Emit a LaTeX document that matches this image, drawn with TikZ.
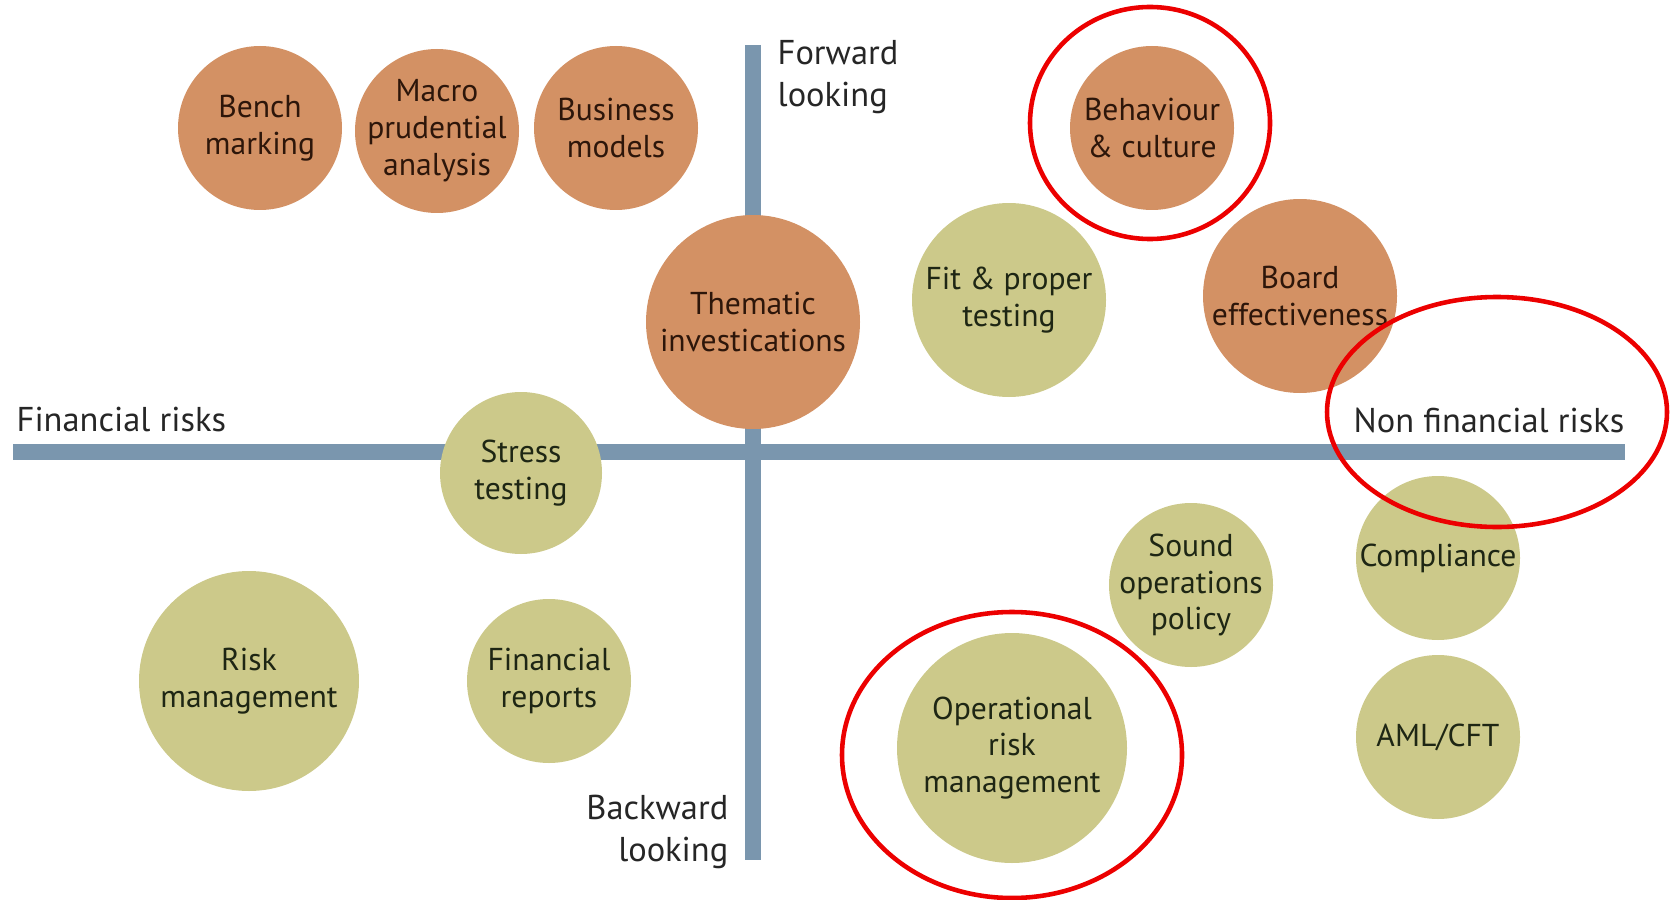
\documentclass[tikz,border=0pt]{standalone}
\usepackage{fontspec}
\setmainfont{PT Sans}
\usetikzlibrary{positioning}

\definecolor{rust}{RGB}{211,145,100}
\definecolor{olive}{RGB}{204,201,138}
\definecolor{axisblue}{RGB}{122,150,174}
\definecolor{ringred}{RGB}{236,0,0}
\definecolor{inkbrown}{RGB}{45,22,10}
\definecolor{inkgreen}{RGB}{30,38,20}

\begin{document}
\begin{tikzpicture}[x=0.1mm, y=-0.1mm,
  bubble/.style={circle, inner sep=-8pt, align=center, font=\fontsize{9}{10.5}\selectfont},
  fwd/.style={bubble, fill=rust, text=inkbrown},
  bwd/.style={bubble, fill=olive, text=inkgreen},
  dia/.style={minimum size=#1mm},
  axislabel/.style={inner sep=0pt, font=\fontsize{9.8}{11.8}\selectfont, text=black!85},
  ring/.style={draw=ringred, line width=1.3pt}]
\useasboundingbox (0,0) rectangle (1673,900);

\coordinate (west) at (13,452);
\coordinate (east) at (1625,452);
\coordinate (top) at (753,45);
\coordinate (bottom) at (753,860);
\draw[axisblue, line width=4.3pt] (west) -- (east);
\draw[axisblue, line width=4.3pt] (top) -- (bottom);

\node[axislabel, anchor=west, align=left] (fl) at (777,77) {Forward\\looking};
\node[axislabel, anchor=east, align=right] (bl) at (729,832) {Backward\\looking};
\node[axislabel, anchor=west] (fr) at (16,420) {Financial risks};
\node[axislabel, anchor=east] (nfr) at (1625,420) {Non financial risks};

\node[fwd, dia=16.4] (bench) at (260,128) {Bench\\marking};
\node[fwd, dia=16.4] (macro) at (437,131) {Macro\\prudential\\analysis};
\node[fwd, dia=16.4] (business) at (616,128) {Business\\models};
\node[fwd, dia=21.4] (thematic) at (753,322) {Thematic\\investications};
\node[bwd, dia=19.4] (fit) at (1009,300) {Fit \& proper\\testing};
\node[fwd, dia=16.4] (behaviour) at (1152,128) {Behaviour\\\& culture};
\node[fwd, dia=19.4] (board) at (1300,296) {Board\\effectiveness};
\node[bwd, dia=16.2] (stress) at (521,473) {Stress\\testing};
\node[bwd, dia=22] (risk) at (249,681) {Risk\\management};
\node[bwd, dia=16.4] (reports) at (549,681) {Financial\\reports};
\node[bwd, dia=23] (oprisk) at (1012,748) {Operational\\risk\\management};
\node[bwd, dia=16.4] (sound) at (1191,585) {Sound\\operations\\policy};
\node[bwd, dia=16.4] (compliance) at (1438,558) {Compliance};
\node[bwd, dia=16.4] (aml) at (1438,737) {AML/CFT};

\draw[ring] (1150,123) ellipse (120 and 116);
\draw[ring] (1497,412) ellipse (170 and 115);
\draw[ring] (1012,755) ellipse (170 and 143);
\end{tikzpicture}
\end{document}
